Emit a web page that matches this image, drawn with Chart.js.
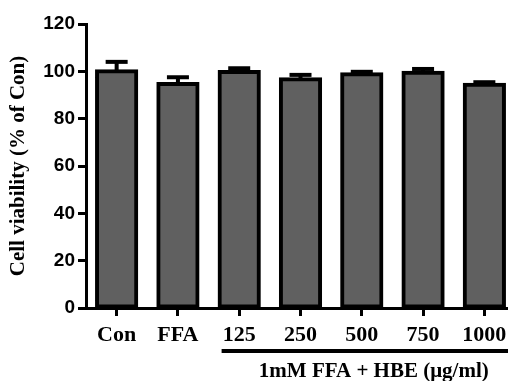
<!DOCTYPE html>
<html lang="en">
  <head>
    <meta charset="UTF-8" />
    <title>Cell viability</title>
    <script src="https://cdn.jsdelivr.net/npm/chart.js"></script>
    <style>
      body { margin: 0; overflow: hidden; background: #fff; }
      #wrap { width: 516px; height: 381px; position: relative; }
    </style>
  </head>
  <body>
    <div id="wrap"><canvas id="viabilityChart"></canvas></div>
    <script>
      // values
      const groups = ["Con", "FFA", "125", "250", "500", "750", "1000"];
      const viability = [100, 94.6, 99.7, 96.7, 98.8, 99.4, 94.3];
      const sem = [4.0, 2.9, 1.6, 1.8, 1.0, 1.6, 1.1];
      const yTicks = [0, 20, 40, 60, 80, 100, 120];
      const treatLabel = "1mM FFA + HBE (\u03bcg/ml)";

      const serif = "'Liberation Serif', 'DejaVu Serif', serif";

      // upper error bars + treatment bracket
      const extras = {
        id: "extras",
        beforeDatasetsDraw(chart) {
          const ctx = chart.ctx;
          const y = chart.scales.y;
          const meta = chart.getDatasetMeta(0);
          ctx.save();
          ctx.fillStyle = "#000";
          meta.data.forEach((bar, i) => {
            const top = y.getPixelForValue(viability[i] + sem[i]);
            ctx.fillRect(bar.x - 2, top, 4, bar.y - top + 2);
            ctx.fillRect(bar.x - 11, top - 2, 22, 4);
          });
          ctx.restore();
        },
        afterDraw(chart) {
          const ctx = chart.ctx;
          const meta = chart.getDatasetMeta(0);
          const b = meta.data[2];
          const left = b.x - b.width / 2;
          const right = chart.width;
          ctx.save();
          ctx.fillStyle = "#000";
          ctx.fillRect(left + 2, 349, right - left, 4);
          ctx.font = "bold 21px " + serif;
          ctx.textAlign = "center";
          ctx.textBaseline = "middle";
          ctx.fillText(treatLabel, (left + right) / 2 + 6, 372);
          ctx.restore();
        },
      };

      new Chart(document.getElementById("viabilityChart"), {
        type: "bar",
        data: {
          labels: groups,
          datasets: [
            {
              data: viability,
              backgroundColor: "#606060",
              borderColor: "#000",
              borderWidth: 4,
              borderSkipped: false,
              inflateAmount: 2,
              barPercentage: 0.64,
              categoryPercentage: 1,
            },
          ],
        },
        options: {
          responsive: true,
          maintainAspectRatio: false,
          animation: false,
          layout: { padding: { top: 24, right: 1, left: 0, bottom: 0 } },
          plugins: { legend: { display: false }, tooltip: { enabled: false } },
          scales: {
            x: {
              grid: {
                display: true,
                drawOnChartArea: false,
                offset: false,
                color: "#000",
                lineWidth: 3,
                tickLength: 8,
              },
              border: { color: "#000", width: 3 },
              ticks: {
                color: "#000",
                padding: 6,
                font: { family: serif, size: 22, weight: "bold" },
              },
              afterFit(scale) { scale.height = 73; },
            },
            y: {
              min: 0,
              max: 120,
              afterBuildTicks(scale) {
                scale.ticks = yTicks.map((v) => ({ value: v }));
              },
              grid: {
                display: true,
                drawOnChartArea: false,
                color: "#000",
                lineWidth: 3,
                tickLength: 8,
              },
              border: { color: "#000", width: 3 },
              ticks: {
                color: "#000",
                padding: 3,
                font: { family: "'Liberation Sans', Arial, sans-serif", size: 19, weight: "bold" },
              },
              title: {
                display: true,
                text: "Cell viability (% of Con)",
                color: "#000",
                padding: { top: 6, bottom: 0 },
                font: { family: serif, size: 21, weight: "bold" },
              },
              afterFit(scale) { scale.width = 86; },
            },
          },
        },
        plugins: [extras],
      });
    </script>
  </body>
</html>
